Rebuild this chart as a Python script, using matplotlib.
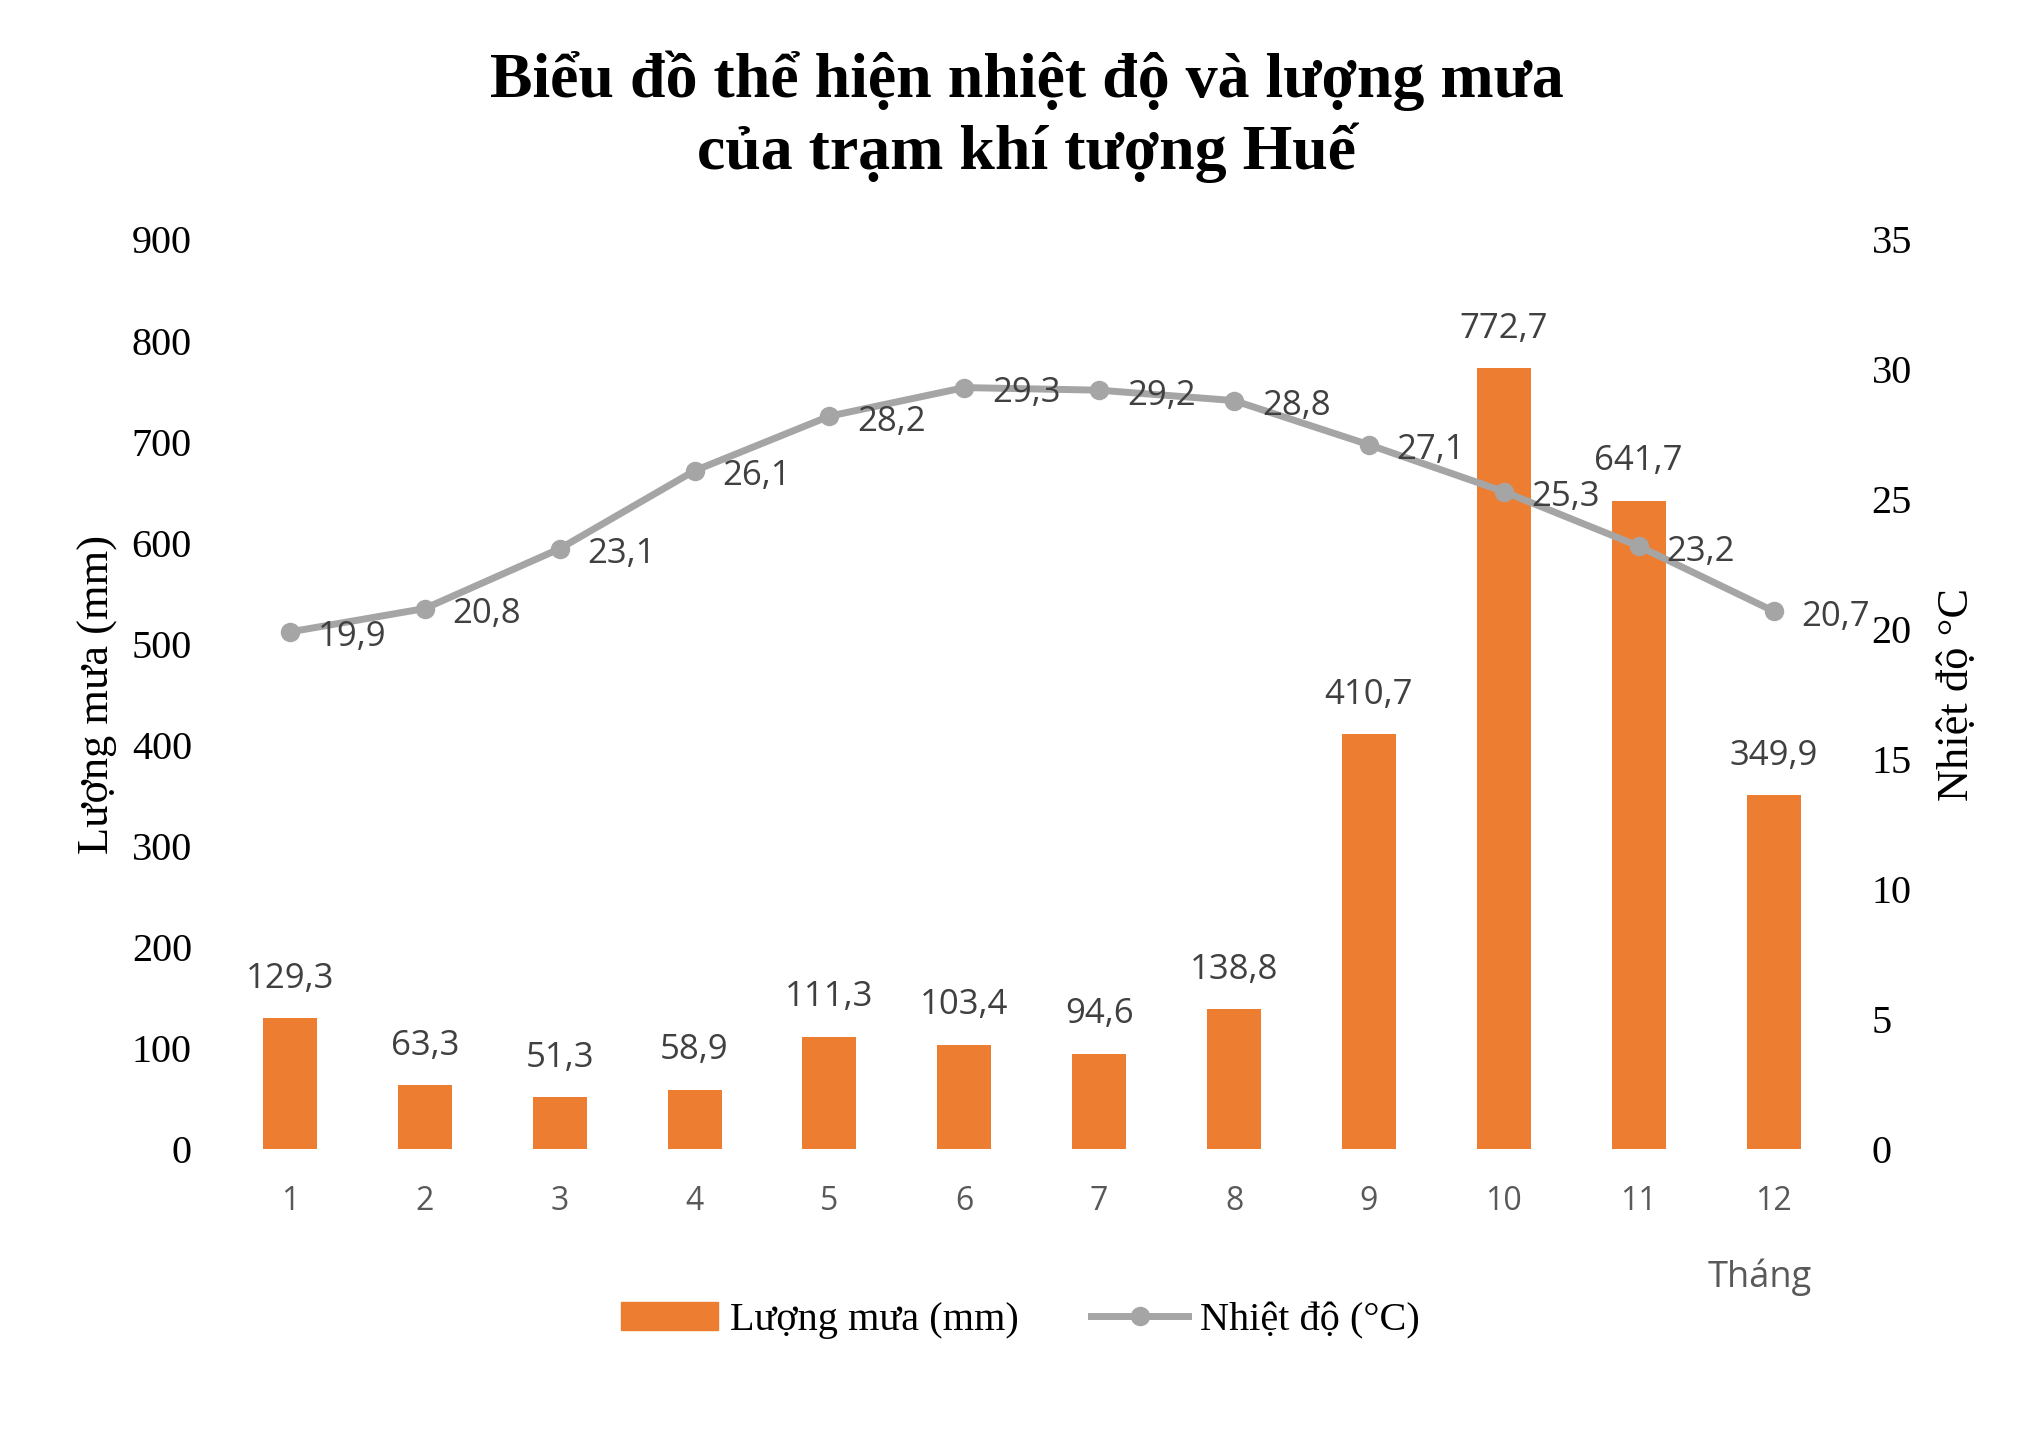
import matplotlib.pyplot as plt
import numpy as np

months = [str(m) for m in range(1, 13)]
rain = [129.3, 63.3, 51.3, 58.9, 111.3, 103.4, 94.6, 138.8, 410.7, 772.7, 641.7, 349.9]
temp = [19.9, 20.8, 23.1, 26.1, 28.2, 29.3, 29.2, 28.8, 27.1, 25.3, 23.2, 20.7]

SERIF = 'Liberation Serif'
SANS = 'Open Sans'
BAR_C = '#ED7D31'
LINE_C = '#A5A5A5'
LABEL_C = '#404040'


def fmt(v):
    return f'{v:.1f}'.replace('.', ',')


fig = plt.figure(figsize=(20.41, 14.51), dpi=100)
ax = fig.add_axes([0.109, 0.208, 0.793, 0.627])
ax2 = ax.twinx()

x = np.arange(len(months))
ax.bar(x, rain, width=0.4, color=BAR_C, zorder=2)
ax.set_ylim(0, 900)
ax.set_yticks(range(0, 901, 100))
ax.set_xlim(-0.5, 11.5)
ax.set_xticks(x)
ax.set_xticklabels(months, family=SANS, fontsize=23, color='#595959')
for t in ax.get_yticklabels():
    t.set_family(SERIF)
    t.set_fontsize(29)
ax.tick_params(axis='y', length=0, pad=22)
ax.tick_params(axis='x', length=0, pad=26)
ax.set_ylabel('Lượng mưa (mm)', family=SERIF, fontsize=32, labelpad=10)
for xi, v in zip(x, rain):
    ax.annotate(fmt(v), (xi, v), xytext=(0, 16), textcoords='offset points',
                ha='center', va='bottom', family=SANS, fontsize=25, color=LABEL_C)

ax2.plot(x, temp, color=LINE_C, lw=5, marker='o', ms=13, zorder=3)
ax2.set_ylim(0, 35)
ax2.set_yticks(range(0, 36, 5))
for t in ax2.get_yticklabels():
    t.set_family(SERIF)
    t.set_fontsize(29)
ax2.tick_params(length=0, pad=22)
ax2.set_ylabel('Nhiệt độ °C', family=SERIF, fontsize=32, labelpad=18)
for xi, v in zip(x, temp):
    ax2.annotate(fmt(v), (xi, v), xytext=(20, -4), textcoords='offset points',
                 ha='left', va='center', family=SANS, fontsize=25, color=LABEL_C)

for a in (ax, ax2):
    for s in a.spines.values():
        s.set_visible(False)

fig.text(0.503, 0.965, 'Biểu đồ thể hiện nhiệt độ và lượng mưa\ncủa trạm khí tượng Huế',
         ha='center', va='top', family=SERIF, fontsize=46, fontweight='bold',
         linespacing=1.25)
fig.text(0.862, 0.113, 'Tháng', family=SANS, fontsize=26, color='#595959', ha='center')

h1 = plt.Rectangle((0, 0), 1, 1, color=BAR_C)
h2 = plt.Line2D([], [], color=LINE_C, lw=5, marker='o', ms=13)
fig.legend([h1, h2], ['Lượng mưa (mm)', 'Nhiệt độ (°C)'], loc='center',
           bbox_to_anchor=(0.5, 0.09), ncol=2, frameon=False,
           prop={'family': SERIF, 'size': 29}, handlelength=2.4,
           handletextpad=0.3, columnspacing=1.8)

fig.savefig('out.png')
